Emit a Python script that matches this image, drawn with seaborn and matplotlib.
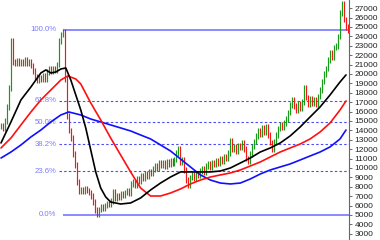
import matplotlib
matplotlib.use("Agg")
import matplotlib.pyplot as plt
import numpy as np
import pandas as pd
import seaborn as sns

# ---------------- data ----------------
closes = [
    14500, 14200, 15000, 16500, 18500, 23500, 21300, 21200, 21400, 21100,
    21300, 21200, 21500, 21200, 21300, 20900, 20300, 19700, 19300, 19600,
    19400, 19800, 19500, 20200, 20500, 20300, 20600, 20400, 21000, 23500,
    24200, 24500, 19500, 15500, 14000, 13200, 11500, 10300, 8500, 7500,
    7700, 7500, 7800, 7600, 7400, 7000, 6400, 5500, 5100, 5600,
    5900, 5700, 6000, 6200, 6100, 6500, 7500, 6800, 7000, 6900,
    7200, 7100, 7400, 7600, 7300, 8300, 8500, 8200, 8800, 8600,
    9200, 8900, 9400, 9100, 9600, 9400, 9900, 10200, 10000, 10500,
    10300, 10600, 10200, 10700, 10400, 10800, 10500, 10900, 11600, 12000,
    10600, 10900, 9800, 8700, 8200, 9000, 9300, 8900, 9400, 9200,
    9700, 9900, 9600, 10200, 10400, 10100, 10600, 10400, 10800, 10500,
    11000, 10700, 11200, 11000, 11600, 12900, 12000, 12300, 11800, 12400,
    12200, 12700, 12000, 11000, 10700, 11500, 12300, 12800, 13400, 14000,
    13600, 14300, 13800, 14400, 13500, 12700, 12000, 12800, 13500, 14200,
    14600, 14300, 14800, 15200, 15900, 16700, 17200, 16600, 16200, 16800,
    16400, 17000, 18500, 17500, 16800, 17400, 16900, 17300, 16800, 17600,
    18300, 19200, 20000, 20600, 21500, 22300, 21800, 22800, 23000, 24000,
    26500, 27500, 25800, 25000, 24700,
]

black_idx = [0, 5, 10, 15, 20, 22.5, 25, 27.5, 30, 32.5, 35, 37.5, 40, 42.5, 45,
             47.5, 50, 52.5, 55, 60, 65, 70, 75, 80, 85, 90, 95, 100, 105, 110,
             115, 120, 125, 130, 135, 140, 145, 150, 155, 160, 165, 170, 173]
black_ma = [12660, 14900, 17240, 18620, 20110, 20430, 20110, 20210, 20530, 20640,
            19360, 17770, 16170, 14260, 11920, 9580, 7870, 6920, 6380, 6170,
            6280, 6810, 7660, 8400, 9040, 9580, 9580, 9580, 9580, 9680,
            10000, 10530, 11060, 11700, 12130, 12660, 13410, 14360, 15430, 16490,
            17770, 19150, 19900]

red_idx = [0, 5, 10, 15, 20, 25, 30, 33.5, 37.5, 40, 45, 50, 55, 60, 65, 70, 75,
           80, 85, 90, 95, 100, 105, 110, 115, 120, 125, 130, 135, 140, 145, 150,
           155, 160, 165, 170, 173]
red_ma = [12130, 13190, 14580, 15960, 17240, 18300, 19360, 19790, 19470, 18940,
          16920, 15110, 13190, 11380, 9580, 7870, 7020, 7020, 7340, 7770,
          8300, 8720, 9040, 9260, 9470, 9790, 10210, 10640, 11170, 11700,
          12130, 12550, 13090, 13830, 14790, 16170, 17130]

blue_idx = [0, 5, 10, 15, 20, 25, 30, 34, 40, 45, 50, 55, 60, 65, 70, 75, 80, 85,
            90, 95, 100, 105, 110, 115, 120, 125, 130, 135, 140, 145, 150, 155,
            160, 165, 170, 173]
blue_ma = [11060, 11700, 12450, 13300, 14040, 14900, 15640, 15960, 15640, 15210,
           14900, 14580, 14260, 13940, 13510, 13090, 12450, 11810, 10960, 10110,
           9260, 8720, 8400, 8300, 8400, 8830, 9360, 9790, 10110, 10430,
           10850, 11280, 11700, 12240, 13090, 14040]

fib_low = 5000
fib_high = 24700
fib_start = 31          # bar of the high
fib_levels = [0.0, 0.236, 0.382, 0.5, 0.618, 1.0]
fib_labels = ["0.0%", "23.6%", "38.2%", "50.0%", "61.8%", "100.0%"]

y_ticks = list(range(3000, 28000, 1000))

# ---------------- plot ----------------
sns.set_style("white")
plt.rcParams["font.family"] = ["Liberation Sans", "DejaVu Sans"]

fig = plt.figure(figsize=(3.8, 2.4), dpi=100)
ax = fig.add_axes([0, 0, 349 / 380, 1])

n = len(closes)
idx = np.arange(n)
c = np.array(closes, dtype=float)
o = np.concatenate([[c[0]], c[:-1]])
lo = np.minimum(o, c) - 300
hi = np.maximum(o, c) + 300
cols = np.where(c >= o, "#1a9a1a", "#f01818")
ax.vlines(idx, lo, hi, colors=cols, linewidth=0.85, zorder=3)

# Fibonacci lines
rng = fib_high - fib_low
for lev, lab in zip(fib_levels, fib_labels):
    val = fib_low + lev * rng
    if lev in (0.0, 1.0):
        ax.hlines(val, fib_start, n, colors="#6b6bff", linewidth=1.1, zorder=2)
    else:
        ax.hlines(val, fib_start - 2, n, colors="#4a4aff", linewidth=0.8,
                  linestyles=(0, (2.2, 2.0)), zorder=2)
    ax.text(fib_start - 3.2, val, lab, ha="right", va="center",
            fontsize=5.6, color="#7b7bff", zorder=4)

# moving averages
df_b = pd.DataFrame({"i": black_idx, "v": black_ma})
df_r = pd.DataFrame({"i": red_idx, "v": red_ma})
df_u = pd.DataFrame({"i": blue_idx, "v": blue_ma})
sns.lineplot(data=df_u, x="i", y="v", ax=ax, color="#1010ff", linewidth=1.2, zorder=5)
sns.lineplot(data=df_r, x="i", y="v", ax=ax, color="#ff1010", linewidth=1.2, zorder=5)
sns.lineplot(data=df_b, x="i", y="v", ax=ax, color="#000000", linewidth=1.2, zorder=6)

ax.set_xlim(-0.5, n - 0.5)
ax.set_ylim(2340, 27870)
ax.set_xlabel("")
ax.set_ylabel("")
ax.set_xticks([])
ax.yaxis.tick_right()
ax.set_yticks(y_ticks)
ax.set_yticklabels([str(t) for t in y_ticks])
ax.tick_params(axis="y", which="major", length=2.5, width=0.6, color="#555555",
               labelsize=6, labelcolor="#222222", pad=1.5, right=True)
for s in ["top", "left", "bottom"]:
    ax.spines[s].set_visible(False)
ax.spines["right"].set_color("#666666")
ax.spines["right"].set_linewidth(0.8)
ax.set_facecolor("white")
fig.patch.set_facecolor("white")

fig.savefig("out.png", dpi=100)
